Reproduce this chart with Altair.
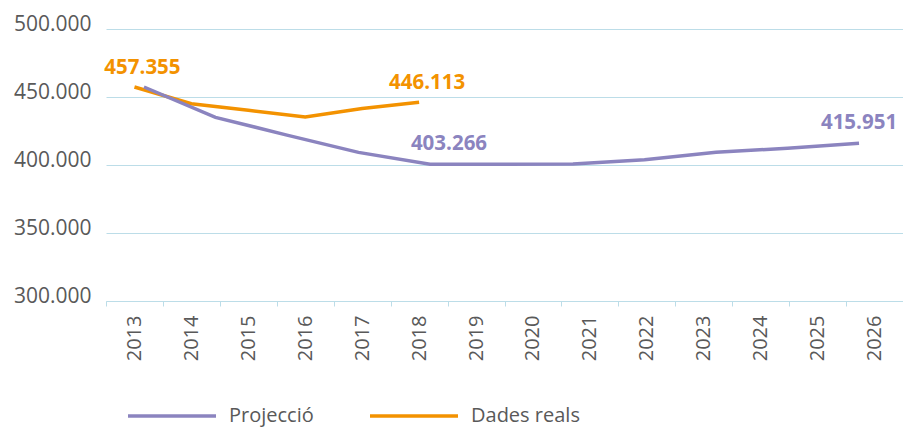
import altair as alt
import pandas as pd

years = [str(y) for y in range(2013, 2027)]

# Dades reals (2013-2018)
real_years = ["2013", "2014", "2015", "2016", "2017", "2018"]
real_values = [457355, 445000, 440200, 435300, 441500, 446113]

# Projecció (11 points spread along the plot)
proj_steps = [0, 1, 2, 3, 4, 5, 6, 7, 8, 9, 10]
proj_values = [457355, 435000, 422000, 409300, 400600, 400500, 400800, 403800, 409300, 412300, 415951]

# labels
real_label_years = ["2013", "2018"]
real_label_values = [457355, 446113]
proj_label_steps = [4, 10]
proj_label_points = [400600, 415951]
proj_label_values = [403266, 415951]

PURPLE = "#8b84bf"
ORANGE = "#f39200"
GRID = "#bcdde8"
TEXT = "#595959"
FONT = "Open Sans"

real_df = pd.DataFrame({"year": real_years, "value": real_values, "serie": "Dades reals"})
proj_df = pd.DataFrame({"step": proj_steps, "value": proj_values, "serie": "Projecció"})
real_lab = pd.DataFrame({"year": real_label_years, "value": real_label_values})
proj_lab = pd.DataFrame({"step": proj_label_steps, "value": proj_label_points, "lab": proj_label_values})

yaxis = alt.Axis(
    values=[300000, 350000, 400000, 450000, 500000],
    labelExpr="replace(format(datum.value, ','), ',', '.')",
    title=None, domain=False, ticks=False,
    grid=True, gridColor=GRID, gridWidth=1,
    labelFont=FONT, labelFontSize=21, labelColor=TEXT,
    labelPadding=15, labelBaseline="alphabetic", labelOffset=1,
)
yscale = alt.Scale(domain=[300000, 500000], nice=False, zero=False)

xaxis = alt.Axis(
    title=None, orient="bottom", labelAngle=270,
    domain=True, domainColor=GRID, ticks=True, tickColor=GRID, tickSize=5, tickBand="extent",
    labelFont=FONT, labelFontSize=20, labelColor=TEXT, labelPadding=9,
    grid=False,
)
xband_scale = alt.Scale(type="band", domain=years, paddingInner=0, paddingOuter=0)

color = alt.Color(
    "serie:N",
    scale=alt.Scale(domain=["Projecció", "Dades reals"], range=[PURPLE, ORANGE]),
    legend=alt.Legend(
        title=None, orient="none", direction="horizontal",
        legendX=20, legendY=376, clipHeight=22,
        symbolType="stroke", symbolSize=7744, symbolStrokeWidth=3.5,
        labelFont=FONT, labelFontSize=20, labelColor=TEXT,
        labelOffset=11, columnPadding=54,
    ),
)

orange_line = alt.Chart(real_df).mark_line(strokeWidth=3.5).encode(
    x=alt.X("year:O", scale=xband_scale, bandPosition=0.5, axis=xaxis),
    y=alt.Y("value:Q", scale=yscale, axis=yaxis),
    color=color,
)

orange_text = alt.Chart(real_lab).transform_calculate(
    txt="replace(format(datum.value, ','), ',', '.')"
).mark_text(
    font=FONT, fontSize=20.5, fontWeight="bold", color=ORANGE,
    baseline="alphabetic", dy=-13, dx=8
).encode(
    x=alt.X("year:O", scale=xband_scale, bandPosition=0.5, axis=xaxis),
    y=alt.Y("value:Q", scale=yscale, axis=yaxis),
    text="txt:N",
)

pscale = alt.Scale(domain=[-0.531, 10.615], nice=False, zero=False)

purple_line = alt.Chart(proj_df).mark_line(strokeWidth=3.5).encode(
    x=alt.X("step:Q", scale=pscale, axis=None),
    y=alt.Y("value:Q", scale=yscale, axis=yaxis),
    color=color,
)

purple_base = alt.Chart(proj_lab).transform_calculate(
    txt="replace(format(datum.lab, ','), ',', '.')",
).encode(
    x=alt.X("step:Q", scale=pscale, axis=None),
    y=alt.Y("value:Q", scale=yscale, axis=yaxis),
    text="txt:N",
)
purple_text_mid = purple_base.transform_filter("datum.step == 4").mark_text(
    font=FONT, fontSize=20.5, fontWeight="bold", color=PURPLE,
    baseline="alphabetic", dy=-14, dx=19
)
purple_text_end = purple_base.transform_filter("datum.step == 10").mark_text(
    font=FONT, fontSize=20.5, fontWeight="bold", color=PURPLE,
    baseline="alphabetic", dy=-14
)

chart = alt.layer(
    alt.layer(orange_line, orange_text),
    alt.layer(purple_line, purple_text_mid, purple_text_end),
).resolve_scale(x="independent").properties(
    width=797, height=272,
    autosize=alt.AutoSizeParams(type="none"),
    padding={"left": 98, "top": 21, "right": 0, "bottom": 127},
).configure_view(stroke=None).configure_axis(
    gridColor=GRID, domainColor=GRID, tickColor=GRID
)

chart.save("out.html", embed_options={"renderer": "svg", "actions": False})
